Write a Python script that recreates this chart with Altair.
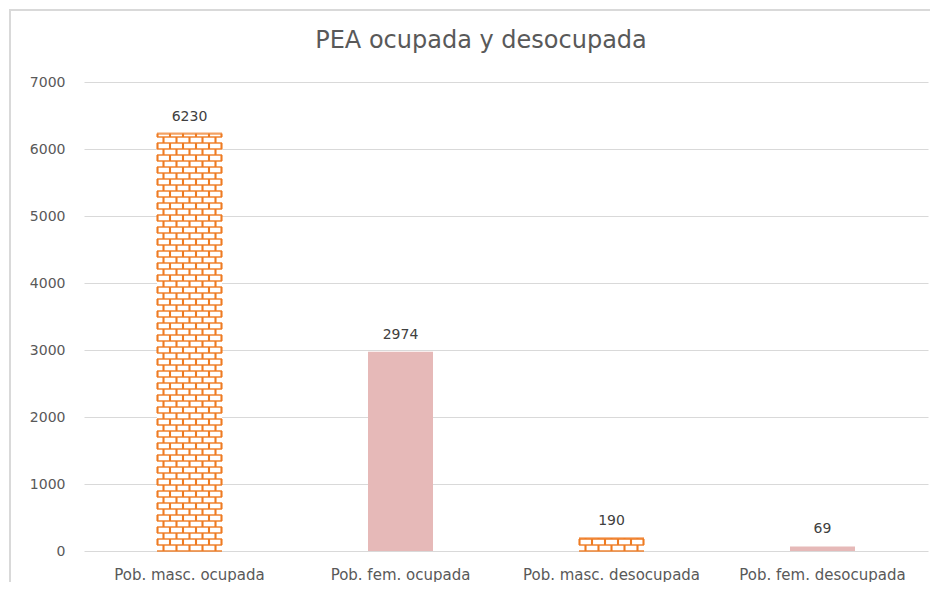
import altair as alt
import pandas as pd
import numpy as np

title_text = "PEA ocupada y desocupada"
categories = ["Pob. masc. ocupada", "Pob. fem. ocupada", "Pob. masc. desocupada", "Pob. fem. desocupada"]
values = [6230, 2974, 190, 69]
fill_style = ["brick", "solid", "brick", "solid"]
y_ticks = [0, 1000, 2000, 3000, 4000, 5000, 6000, 7000]

W, H = 844, 469
YMAX = 7000
BAR_PX = 65
ORANGE = "#EE7B22"
PINK = "#E6B9B8"
GRID = "#D9D9D9"
TXT = "#595959"
FONT = "DejaVu Sans"

df = pd.DataFrame({"cat": categories, "val": values, "style": fill_style})

# brick pattern rows derived from the bar values (decoration only)
row_units = 6 * YMAX / H
rows = []
hlines = []
for c, v, s in zip(categories, values, fill_style):
    if s != "brick":
        continue
    k = 0
    y0 = 0.0
    while y0 < v - 1e-9:
        y1 = min(y0 + row_units, v)
        rows.append({"cat": c, "y0": y0, "y1": y1, "parity": k % 2})
        hlines.append({"cat": c, "y": y0})
        y0 += row_units
        k += 1
    hlines.append({"cat": c, "y": v})
rows_df = pd.DataFrame(rows)
h_df = pd.DataFrame(hlines)

xenc = alt.X("cat:N", sort=categories, title=None,
             scale=alt.Scale(paddingInner=0, paddingOuter=0),
             axis=alt.Axis(labelAngle=0, labelFontSize=15, labelColor=TXT, labelFont=FONT,
                           labelPadding=16, domain=False, ticks=False, grid=False))
yscale = alt.Scale(domain=[0, YMAX], nice=False)
yenc = alt.Y("val:Q", scale=yscale, title=None,
             axis=alt.Axis(values=y_ticks, format="d", labelFontSize=14, labelColor=TXT,
                           labelFont=FONT, labelPadding=19, domain=False, ticks=False,
                           gridColor=GRID, gridWidth=1))

base = alt.Chart(df)
one = alt.Chart(pd.DataFrame({"k": [0]}))

border = one.mark_rect(
    fillOpacity=0, stroke=GRID, strokeWidth=2
).encode(x=alt.value(-74), x2=alt.value(900), y=alt.value(-72), y2=alt.value(600))

title = one.mark_text(fontSize=24, color=TXT, font=FONT, baseline="alphabetic", align="center").encode(
    x=alt.value(W / 2 - 25), y=alt.value(-34), text=alt.value(title_text)
)

bars = base.mark_bar(size=BAR_PX).encode(
    x=xenc, y=yenc,
    color=alt.Color("style:N", scale=alt.Scale(domain=["brick", "solid"], range=["white", PINK]), legend=None),
)

hl = alt.Chart(h_df).mark_tick(size=BAR_PX, thickness=2.1, color=ORANGE).encode(
    x=alt.X("cat:N", sort=categories), y=alt.Y("y:Q", scale=yscale)
)

vlayers = []
offsets = {0: [-26, -13, 0, 13, 26], 1: [-32, -19.5, -6.5, 6.5, 19.5, 32]}
for parity, offs in offsets.items():
    for o in offs:
        vlayers.append(
            alt.Chart(rows_df).transform_filter(alt.datum.parity == parity)
            .mark_rule(xOffset=o, color=ORANGE, strokeWidth=2.1)
            .encode(x=alt.X("cat:N", sort=categories), y=alt.Y("y0:Q", scale=yscale), y2="y1:Q")
        )

labels = base.mark_text(dy=-13, fontSize=14, color="#404040", font=FONT, baseline="alphabetic").encode(
    x=alt.X("cat:N", sort=categories), y=alt.Y("val:Q", scale=yscale), text=alt.Text("val:Q", format="d")
)

chart = alt.layer(bars, hl, *vlayers, labels, border, title).properties(
    width=W, height=H,
    background="white",
    padding={"left": 76, "top": 74, "right": 2, "bottom": 31},
    autosize=alt.AutoSizeParams(type="none"),
).configure_view(stroke="transparent", strokeWidth=0)

chart.save("out.html", embed_options={"renderer": "svg", "actions": False})
